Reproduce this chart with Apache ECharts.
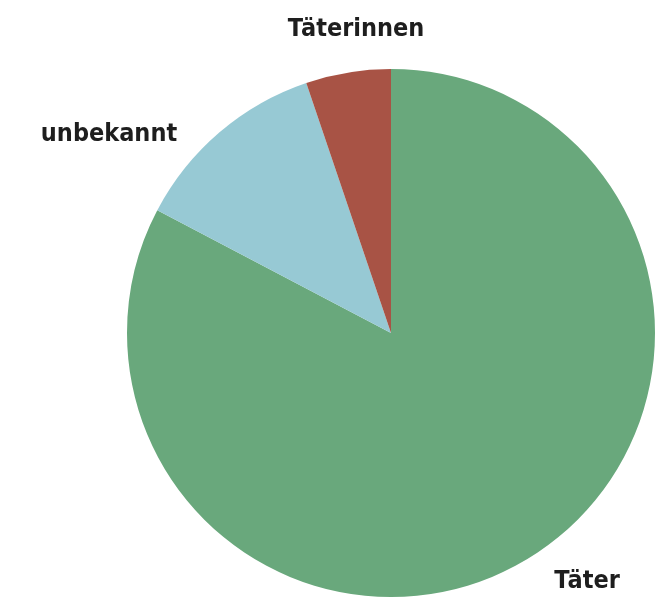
<!DOCTYPE html>
<html>
<head>
<meta charset="utf-8">
<script src="https://cdn.jsdelivr.net/npm/echarts@6/dist/echarts.min.js"></script>
<style>
  html, body { margin: 0; padding: 0; background: #fff; }
  #chart { width: 658px; height: 600px; }
</style>
</head>
<body>
<div id="chart"></div>
<script>
const categories = ['Täter', 'unbekannt', 'Täterinnen']
const values = [82.7, 12.1, 5.2]
const colors = ['#69a87c', '#97c9d4', '#a85345']

// label anchor spots (centre of each text), picked to match the reference
const labelSpots = [
  {x: 587, y: 581},
  {x: 109, y: 134},
  {x: 356, y: 29}
]

const chart = echarts.init(document.getElementById('chart'))
chart.setOption({
  animation: false,
  series: [
    {
      type: 'pie',
      center: [391, 333],
      radius: 264,
      startAngle: 90,
      clockwise: true,
      label: {
        show: true,
        position: 'outside',
        formatter: '{b}',
        fontFamily: 'DejaVu Sans Condensed',
        fontWeight: 'bold',
        fontSize: 25,
        color: '#1e1e1e'
      },
      labelLine: { show: false },
      labelLayout: function (params) {
        const p = labelSpots[params.dataIndex]
        return { x: p.x, y: p.y, align: 'center', verticalAlign: 'middle' }
      },
      itemStyle: { borderWidth: 0 },
      emphasis: { disabled: true },
      data: categories.map((name, i) => ({
        name: name,
        value: values[i],
        itemStyle: { color: colors[i] }
      }))
    }
  ]
})
</script>
</body>
</html>
